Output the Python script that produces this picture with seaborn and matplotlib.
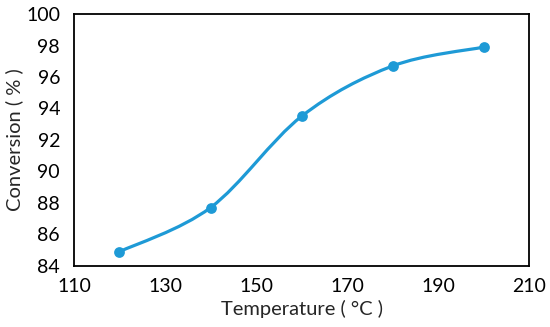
import numpy as np
import pandas as pd
import seaborn as sns
import matplotlib.pyplot as plt
from matplotlib.path import Path
from matplotlib.patches import PathPatch

temperature = [120, 140, 160, 180, 200]
conversion = [84.9, 87.7, 93.5, 96.7, 97.9]
x_ticks = [110, 130, 150, 170, 190, 210]
y_ticks = [84, 86, 88, 90, 92, 94, 96, 98, 100]

blue = "#1E9AD6"

sns.set_style("white")
plt.rcParams['font.family'] = ['Lato', 'DejaVu Sans']

df = pd.DataFrame({"Temperature": temperature, "Conversion": conversion})

fig = plt.figure(figsize=(5.5, 3.27), dpi=100)
ax = fig.add_axes([0.1345, 0.187, 0.8275, 0.770])

# smoothed line like Excel: cubic Bezier segments with Catmull-Rom tangents
pts = df[["Temperature", "Conversion"]].to_numpy(dtype=float)
verts = [pts[0]]
codes = [Path.MOVETO]
n = len(pts)
for i in range(n - 1):
    p0 = pts[max(i - 1, 0)]
    p1 = pts[i]
    p2 = pts[i + 1]
    p3 = pts[min(i + 2, n - 1)]
    c1 = p1 + (p2 - p0) / 6.0
    c2 = p2 - (p3 - p1) / 6.0
    verts += [c1, c2, p2]
    codes += [Path.CURVE4] * 3
ax.add_patch(PathPatch(Path(verts, codes), facecolor="none", edgecolor=blue, lw=2.3, capstyle="round", zorder=2))

sns.scatterplot(data=df, x="Temperature", y="Conversion", ax=ax, color=blue, s=60, edgecolor=blue, linewidth=0, zorder=3)

ax.set_xlim(110, 210)
ax.set_ylim(84, 100)
ax.set_xticks(x_ticks)
ax.set_yticks(y_ticks)
ax.tick_params(axis="both", length=0, labelsize=14, colors="black")
ax.tick_params(axis="x", pad=9)
ax.tick_params(axis="y", pad=10)
for s in ax.spines.values():
    s.set_color("black")
    s.set_linewidth(1.3)

ax.set_xlabel("Temperature ( °C )", fontsize=14.5, labelpad=3)
ax.set_ylabel("Conversion ( % )", fontsize=14.5, labelpad=2)

fig.savefig("out.png", dpi=100)
